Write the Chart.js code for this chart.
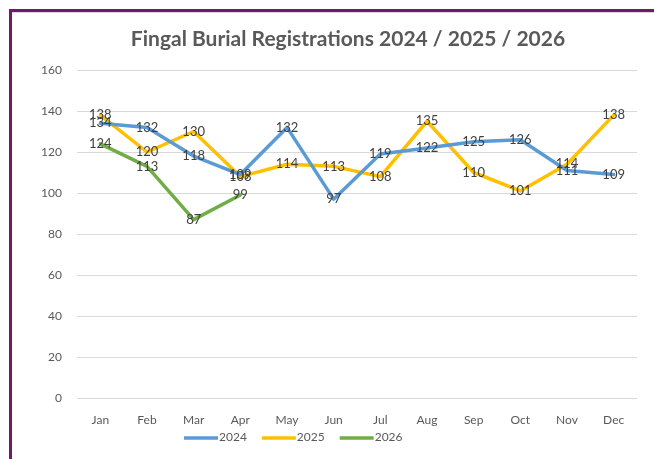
<!DOCTYPE html>
<html>
<head>
<meta charset="utf-8">
<script src="https://cdn.jsdelivr.net/npm/chart.js@4.4.1/dist/chart.umd.min.js"></script>
<style>
  html, body { margin: 0; padding: 0; background: #fff; overflow: hidden; }
  #wrap { position: relative; width: 654px; height: 459px; }
  #frame {
    position: absolute; left: 9px; top: 9px; width: 660px; height: 470px;
    border-left: 3px solid #6f1a6e; border-top: 3px solid #6f1a6e;
    box-sizing: border-box;
  }
  #frame::after {
    content: ''; position: absolute; left: 0; right: 0; top: 0; height: 1px; background: #d9d9d9;
  }
  canvas { position: absolute; left: 0; top: 0; }
</style>
</head>
<body>
<div id="wrap">
  <div id="frame"></div>
  <canvas id="chart" width="654" height="459"></canvas>
</div>
<script>
const chartTitle = 'Fingal Burial Registrations 2024 / 2025 / 2026';
const months = ['Jan', 'Feb', 'Mar', 'Apr', 'May', 'Jun', 'Jul', 'Aug', 'Sep', 'Oct', 'Nov', 'Dec'];
const seriesNames = ['2024', '2025', '2026'];
const values2024 = [134, 132, 118, 109, 132, 97, 119, 122, 125, 126, 111, 109];
const values2025 = [138, 120, 130, 108, 114, 113, 108, 135, 110, 101, 114, 138];
const values2026 = [124, 113, 87, 99];
const seriesColors = ['#5b9bd5', '#ffc000', '#70ad47'];

const textFont = 'Lato, "Open Sans", sans-serif';

// labels drawn centered on each point, like the excel "center" position
const dataLabels = {
  id: 'dataLabels',
  afterDatasetsDraw(chart) {
    const ctx = chart.ctx;
    ctx.save();
    ctx.font = '13px ' + textFont;
    ctx.fillStyle = '#404040';
    ctx.textAlign = 'center';
    ctx.textBaseline = 'middle';
    chart.data.datasets.forEach((ds, i) => {
      chart.getDatasetMeta(i).data.forEach((pt, j) => {
        if (ds.data[j] == null) return;
        ctx.fillText(ds.data[j], pt.x, pt.y);
      });
    });
    ctx.restore();
  }
};

// title and legend placed by hand so they sit where the original has them
const titleAndLegend = {
  id: 'titleAndLegend',
  afterDraw(chart) {
    const ctx = chart.ctx;
    ctx.save();
    ctx.font = 'bold 21px ' + textFont;
    ctx.fillStyle = '#595959';
    ctx.textAlign = 'center';
    ctx.textBaseline = 'alphabetic';
    ctx.fillText(chartTitle, 348, 46);

    ctx.font = '12px ' + textFont;
    ctx.textAlign = 'left';
    ctx.textBaseline = 'middle';
    let x = 184;
    const y = 437;
    chart.data.datasets.forEach(ds => {
      ctx.strokeStyle = ds.borderColor;
      ctx.lineWidth = 3.5;
      ctx.beginPath();
      ctx.moveTo(x, y + 1);
      ctx.lineTo(x + 34, y + 1);
      ctx.stroke();
      ctx.fillStyle = '#595959';
      ctx.fillText(ds.label, x + 35, y);
      x += 35 + ctx.measureText(ds.label).width + 15;
    });
    ctx.restore();
  }
};

const datasets = [values2024, values2025, values2026].map((vals, i) => ({
  label: seriesNames[i],
  data: vals,
  borderColor: seriesColors[i],
  backgroundColor: seriesColors[i],
  borderWidth: 3.5,
  pointRadius: 0,
  tension: 0,
  borderJoinStyle: 'round',
  borderCapStyle: 'round'
}));

new Chart(document.getElementById('chart'), {
  type: 'line',
  data: { labels: months, datasets: datasets },
  options: {
    responsive: false,
    animation: false,
    layout: { padding: { left: 12, right: 17, top: 70, bottom: 0 } },
    plugins: {
      legend: { display: false },
      title: { display: false },
      tooltip: { enabled: false }
    },
    scales: {
      x: {
        offset: true,
        grid: { display: false, drawTicks: false },
        border: { display: false },
        ticks: { color: '#595959', font: { family: textFont, size: 12 }, padding: 15, maxRotation: 0 },
        afterFit(scale) { scale.height = 61; }
      },
      y: {
        min: 0,
        max: 160,
        ticks: { stepSize: 20, color: '#595959', font: { family: textFont, size: 12 }, padding: 15 },
        grid: { color: '#d9d9d9', lineWidth: 1, drawTicks: false },
        border: { display: false },
        afterFit(scale) { scale.width = 65; }
      }
    }
  },
  plugins: [dataLabels, titleAndLegend]
});
</script>
</body>
</html>
